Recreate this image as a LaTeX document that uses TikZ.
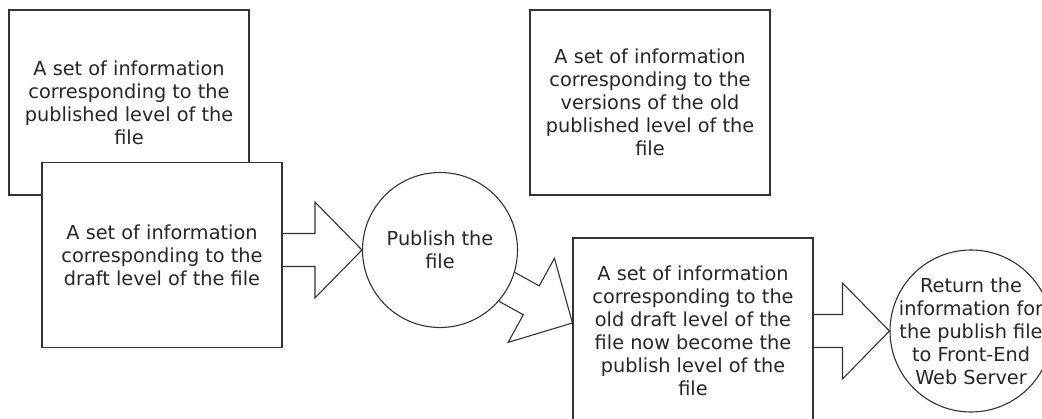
\documentclass[tikz,border=0pt]{standalone}
\usepackage{fontspec}
\setmainfont{DejaVu Sans}
\usetikzlibrary{calc}
% outlined block arrow from #1 (tail) to #2 (tip)
\newcommand{\blockarrow}[2]{%
  \coordinate (bh) at ($(#2)!47pt!(#1)$);
  \draw[barrow] ($(#1)!16.5pt!90:(#2)$) -- ($(bh)!16.5pt!90:(#2)$)
    -- ($(bh)!48pt!90:(#2)$) -- (#2) -- ($(bh)!48pt!-90:(#2)$)
    -- ($(bh)!16.5pt!-90:(#2)$) -- ($(#1)!16.5pt!-90:(#2)$);
}

\begin{document}
\begin{tikzpicture}[x=1pt, y=-1pt,
  infobox/.style={draw=black!80, fill=white, line width=1.1pt,
    minimum width=240pt, minimum height=185pt, align=center,
    text=black!85, font=\fontsize{19.3}{23}\selectfont},
  proc/.style={draw=black!80, fill=white, circle, line width=1.1pt,
    align=center, text=black!85, font=\fontsize{19.3}{23}\selectfont},
  barrow/.style={draw=black!80, line width=1.1pt, line join=miter},
]
  \useasboundingbox (0,0) rectangle (1042,418);

  \node[infobox] (pubd) at (129,102.5)
    {A set of information\\corresponding to the\\published level of the\\file};
  \node[infobox] (draft) at (162,255)
    {A set of information\\corresponding to the\\draft level of the file};
  \node[infobox] (vers) at (650,102.5)
    {A set of information\\corresponding to the\\versions of the old\\published level of the\\file};
  \node[infobox] (old) at (693,330.5)
    {A set of information\\corresponding to the\\old draft level of the\\file now become the\\publish level of the\\file};

  \node[proc, minimum size=155pt] (pub) at (440,250) {Publish the\\file};
  \node[proc, minimum size=162pt, inner sep=-14pt] (ret) at (971,331)
    {Return the\\information for\\the publish file\\to Front-End\\Web Server};

  % block arrows
  \coordinate (a1) at (draft.east |- pub.west);
  \blockarrow{a1}{pub.west}
  \coordinate (t2) at ($(old.west)+(0,-7.5)$);
  \coordinate (a2) at ($(pub.center)!76pt!(t2)$);
  \blockarrow{a2}{t2}
  \coordinate (a3) at (old.east |- ret.west);
  \blockarrow{a3}{ret.west}
\end{tikzpicture}
\end{document}
